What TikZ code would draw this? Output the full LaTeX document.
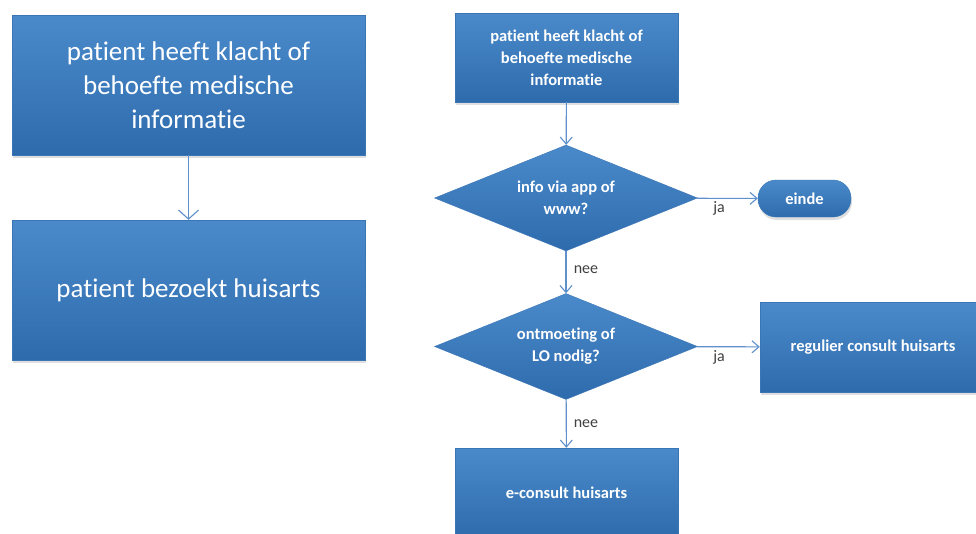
\documentclass[tikz,border=0pt]{standalone}
\usepackage{fontspec}
\setmainfont{Carlito}[Ligatures={NoCommon}]
\usetikzlibrary{shapes.geometric,arrows.meta,shadows}
\definecolor{boxtop}{HTML}{4A8ACA}
\definecolor{boxbot}{HTML}{2E6BAD}
\definecolor{boxrim}{HTML}{3A76B6}
\definecolor{arrowblue}{HTML}{5E90CC}
\definecolor{labelgray}{HTML}{404040}
\begin{document}
\begin{tikzpicture}[x=1pt,y=-1pt]
\tikzset{every node/.style={inner sep=0,align=center,text=white},
  blok/.style={rectangle,draw=boxrim,thin,top color=boxtop,bottom color=boxbot,
    drop shadow={shadow xshift=1pt,shadow yshift=-3pt,opacity=.25}},
  keuze/.style={diamond,aspect=2.5,draw=boxrim,thin,top color=boxtop,bottom color=boxbot,
    minimum width=263pt,minimum height=106pt,font=\bfseries\fontsize{16.5}{22}\selectfont},
  groot/.style={blok,minimum width=353pt,minimum height=140pt,font=\fontsize{27}{34}\selectfont},
  klein/.style={blok,minimum width=223pt,minimum height=89pt,font=\bfseries\fontsize{16.5}{22}\selectfont},
  pijl/.style={draw=arrowblue,line width=1.1pt,-{Straight Barb[length=7pt,width=12pt]}},
  lab/.style={text=labelgray,font=\fontsize{16}{18}\selectfont}}
\useasboundingbox[fill=white] (0,0) rectangle (976,533);

    % huidige situatie
    \node[groot] (k1) at (188.5,85) {patient heeft klacht of\\behoefte medische\\informatie};
    \node[groot] (h1) at (188.5,290) {patient bezoekt huisarts};
    \path[pijl,-{Straight Barb[length=9pt,width=20pt]}] (k1) edge (h1);

    % nieuwe situatie
    \node[klein] (k2) at (566.5,57.5) {patient heeft klacht of\\behoefte medische\\informatie};
    \node[keuze] (d1) at (566,198) {info via app of\\www?};
    \node[blok,rounded corners=18pt,minimum width=93pt,minimum height=37pt,
      font=\bfseries\fontsize{16.5}{22}\selectfont] (e) at (804.5,198.5) {einde};
    \node[keuze] (d2) at (566,346.5) {ontmoeting of\\LO nodig?};
    \node[klein,minimum width=226pt,minimum height=90pt] (r) at (873,347) {regulier consult huisarts};
    \node[klein,minimum height=90pt] (c) at (566.5,493) {e-consult huisarts};
    \path[pijl] (k2) edge (d1) (d1) edge (e) (d1) edge (d2) (d2) edge (r) (d2) edge (c);

    \node[lab] (ja1) at (719,208) {ja};
    \node[lab] (ja2) at (719,357) {ja};
    \node[lab] (nee1) at (586,270) {nee};
    \node[lab] (nee2) at (586,424) {nee};
\end{tikzpicture}
\end{document}
